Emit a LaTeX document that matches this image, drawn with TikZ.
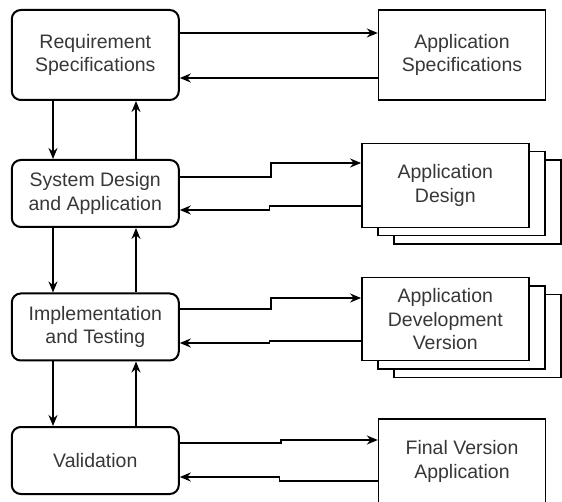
\documentclass[tikz,border=0pt]{standalone}
\usepackage{fontspec}
\setmainfont{Liberation Sans}
\usetikzlibrary{arrows.meta,shadows}
\definecolor{textgray}{RGB}{55,55,55}
\begin{document}
\begin{tikzpicture}[x=1pt,y=-1pt,
	phase/.style={rectangle,rounded corners=9pt,draw,line width=2pt,minimum width=167pt,inner sep=0pt,align=center,text=textgray,font=\fontsize{19.5}{23.5}\selectfont},
	product/.style={rectangle,draw,fill=white,line width=1.4pt,minimum width=167pt,inner sep=0pt,align=center,text=textgray,font=\fontsize{19.5}{23.5}\selectfont},
	stacked/.style={copy shadow={shadow xshift=32pt,shadow yshift=-16.6pt},copy shadow={shadow xshift=16pt,shadow yshift=-8.3pt}},
	flow/.style={-{Stealth[length=11pt,width=9pt]},line width=1.6pt}]
	
	\useasboundingbox (0,0) rectangle (562,502);
	
	\node(reqspec) [phase,minimum height=90pt] at (95.3,55) {Requirement\\Specifications};
	
	\node(sysdesign) [phase,minimum height=67pt] at (95.3,193.5) {System Design\\and Application};
	
	\node(impltest) [phase,minimum height=67pt] at (95.3,327) {Implementation\\and Testing};
	
	\node(validation) [phase,minimum height=67pt] at (95.3,460.5) {Validation};
	
	\node(appspec) [product,minimum height=90pt] at (462,55) {Application\\Specifications};
	
	\node(appdesign) [product,stacked,minimum height=84pt] at (445.3,185.3) {Application\\Design};
	
	\node(appdev) [product,stacked,minimum height=83pt] at (445.3,319.2) {Application\\Development\\Version};
	
	\node(finalver) [product,minimum height=85pt] at (462,461.5) {Final Version\\Application};
	
	\coordinate (downx) at (53,0);
	
	\coordinate (upx) at (136,0);
	
	\draw[flow] (reqspec.south -| downx) -- (sysdesign.north -| downx);
	
	\draw[flow] (sysdesign.north -| upx) -- (reqspec.south -| upx);
	
	\draw[flow] (sysdesign.south -| downx) -- (impltest.north -| downx);
	
	\draw[flow] (impltest.north -| upx) -- (sysdesign.south -| upx);
	
	\draw[flow] (impltest.south -| downx) -- (validation.north -| downx);
	
	\draw[flow] (validation.north -| upx) -- (impltest.south -| upx);
	
	\draw[flow] ([yshift=22pt]reqspec.east) -- ([yshift=22pt]appspec.west);
	
	\draw[flow] ([yshift=-23pt]appspec.west) -- ([yshift=-23pt]reqspec.east);
	
	\draw[flow] ([yshift=16.5pt]sysdesign.east) -- ++(91,0) |- ([yshift=22.3pt]appdesign.west);
	
	\draw[flow] ([yshift=-20.7pt]appdesign.west) -- ++(-91.8,0) |- ([yshift=-16.5pt]sysdesign.east);
	
	\draw[flow] ([yshift=18pt]impltest.east) -- ++(91,0) |- ([yshift=21.2pt]appdev.west);
	
	\draw[flow] ([yshift=-21.8pt]appdev.west) -- ++(-91.8,0) |- ([yshift=-16pt]impltest.east);
	
	\draw[flow] ([yshift=17.5pt]validation.east) -- ++(101,0) |- ([yshift=21.5pt]finalver.west);
	
	\draw[flow] ([yshift=-19.5pt]finalver.west) -- ++(-98.5,0) |- ([yshift=-16.5pt]validation.east);
	
\end{tikzpicture}
\end{document}
